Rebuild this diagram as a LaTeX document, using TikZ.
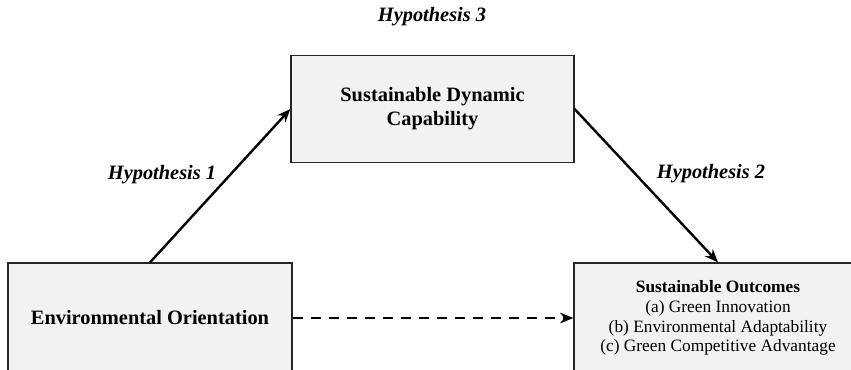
\documentclass[tikz,border=0pt]{standalone}
\usepackage{fontspec}
\setmainfont{Liberation Serif}
\usetikzlibrary{arrows.meta}
\definecolor{boxgray}{HTML}{F2F2F2}
\tikzset{
  box/.style={fill=boxgray, draw=black!85, line width=0.9pt, align=center, inner sep=0pt},
  bigtext/.style={font=\fontsize{15.3}{18}\selectfont\bfseries},
  smalltext/.style={font=\fontsize{13}{14.8}\selectfont},
  hyp/.style={font=\fontsize{15.3}{18}\selectfont\bfseries\itshape},
  link/.style={line width=1.8pt, -{Stealth[length=10pt,width=8pt]}},
}

\begin{document}
\begin{tikzpicture}[x=0.75pt,y=-0.75pt]
\useasboundingbox (0,0) rectangle (851,369);
\clip (0,0) rectangle (851,369);

\node (SDC) at (432.5,109) [box, bigtext, minimum width=212.25pt, minimum height=80.25pt]{Sustainable Dynamic\\Capability};
\node (EO) at (150,318) [box, bigtext, minimum width=213pt, minimum height=82.5pt]{Environmental Orientation};
\node (SO) at (718,318) [box, smalltext, minimum width=216pt, minimum height=82.5pt]{\textbf{Sustainable Outcomes}\\(a) Green Innovation\\(b) Environmental Adaptability\\(c) Green Competitive Advantage};

\draw [link] (EO.north) -- (SDC.west);
\draw [link] (SDC.east) -- (SO.north);
\draw [link, dash pattern=on 7.5pt off 6pt] (EO.east) -- (SO.west);

\node (H1) at (162,175) [hyp]{Hypothesis 1};
\node (H2) at (711,174) [hyp]{Hypothesis 2};
\node (H3) at (432,17) [hyp]{Hypothesis 3};

\end{tikzpicture}
\end{document}
